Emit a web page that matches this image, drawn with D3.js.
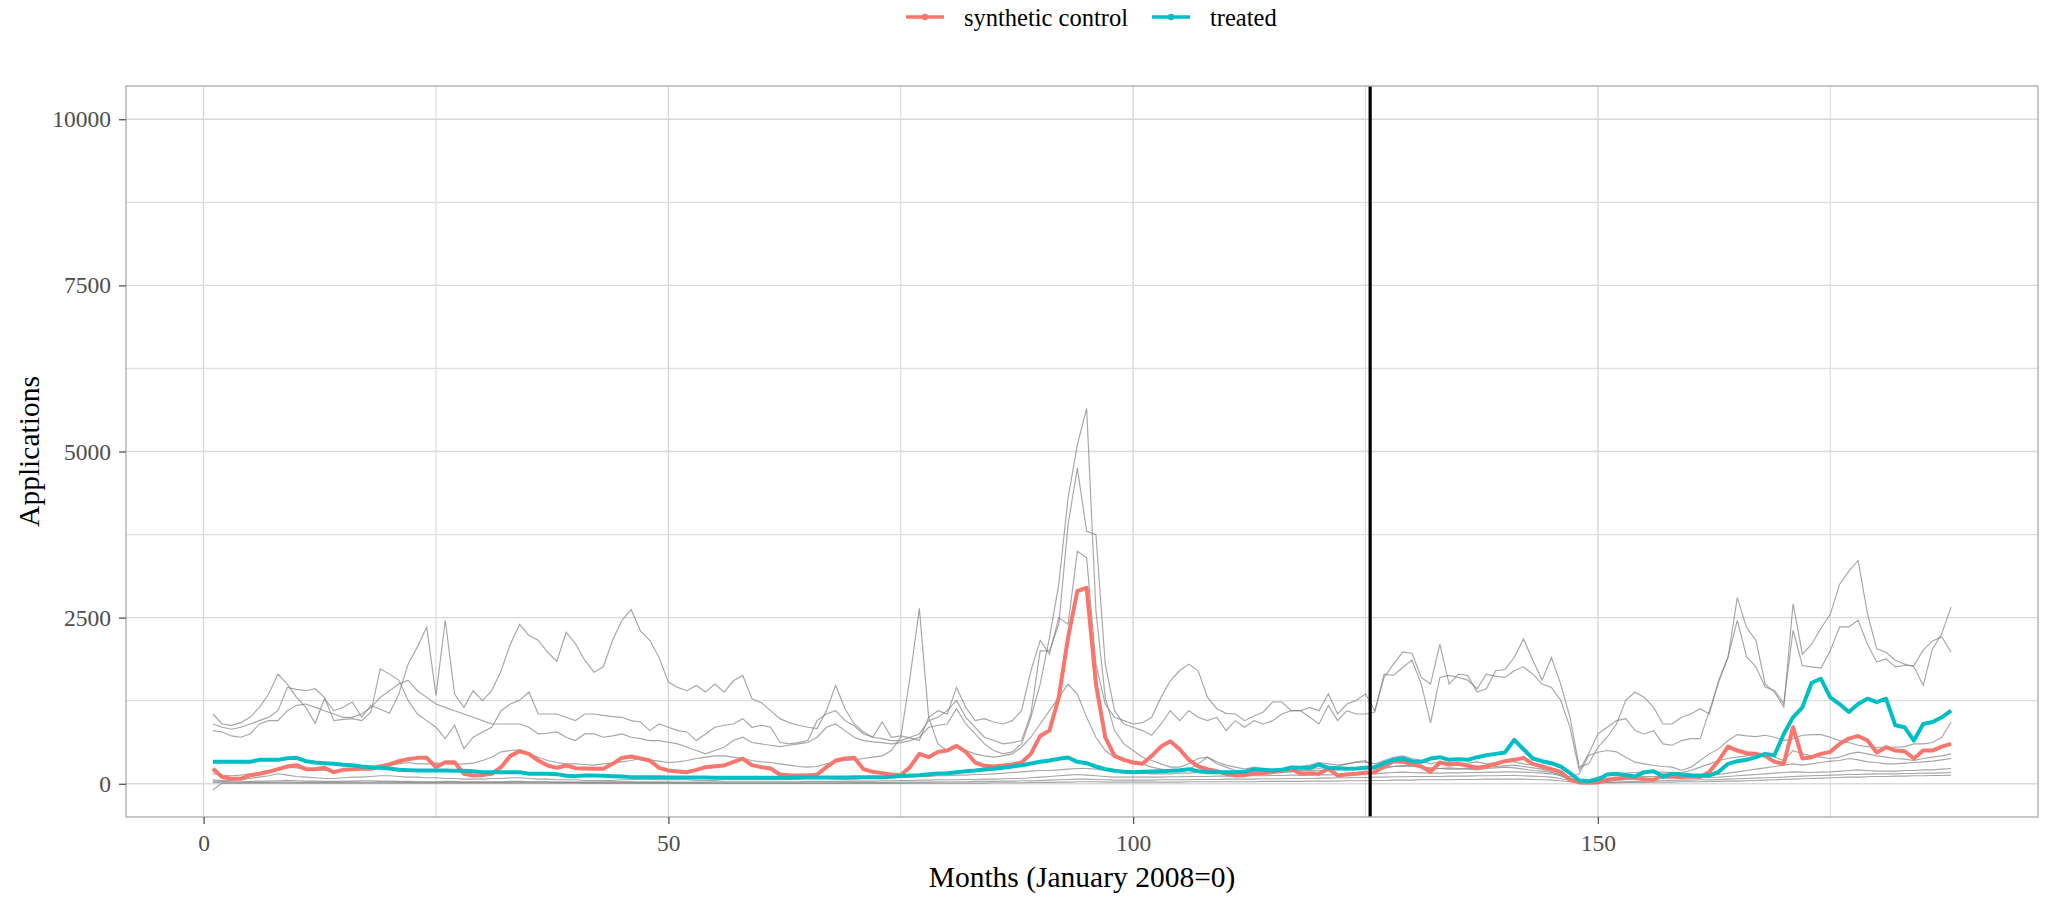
<!DOCTYPE html>
<html>
<head>
<meta charset="utf-8">
<script src="https://cdn.jsdelivr.net/npm/d3@7/dist/d3.min.js"></script>
<style>
body { margin: 0; background: #fff; }
text { font-family: "Liberation Serif", "Times New Roman", serif; }
</style>
</head>
<body>
<div id="chart"></div>
<script>
// months since January 2008
var months = d3.range(1, 189);

var treated = [330,330,330,330,330,360,360,360,385,390,
340,320,310,300,285,280,260,250,240,230,
210,205,200,200,200,200,195,195,190,175,
175,175,175,175,150,150,150,145,120,115,
125,125,120,115,110,100,100,100,100,95,
95,95,95,95,90,90,90,90,90,90,
90,90,90,95,95,95,95,95,95,100,
100,100,100,105,115,125,130,145,155,160,
175,190,200,215,225,240,260,280,305,330,
350,375,395,330,310,260,220,195,180,175,
180,185,190,195,205,220,190,175,175,175,
175,180,215,210,200,210,245,240,240,290,
240,235,225,230,240,250,310,360,380,340,
330,380,400,360,370,360,400,430,450,470,
660,520,380,340,310,260,160,50,40,60,
140,150,130,110,175,190,110,150,140,130,
125,125,180,300,340,360,400,450,430,750,
1000,1150,1520,1580,1300,1200,1080,1200,1280,1230,
1280,880,850,650,900,930,1000,1100];

var synthetic = [225,100,75,75,125,150,180,220,260,280,
220,220,240,175,210,220,225,225,260,290,
340,370,390,390,250,325,325,150,125,130,
150,250,420,490,450,350,275,240,275,235,
230,225,225,300,390,410,380,350,240,200,
185,175,210,250,265,275,330,380,280,250,
230,140,130,125,125,140,250,350,380,390,
220,180,160,140,130,250,450,400,480,500,
570,480,320,270,260,275,290,320,450,720,
800,1300,2200,2900,2950,1500,700,420,360,320,
300,420,560,640,520,360,260,220,190,150,
125,130,150,160,175,200,225,150,160,150,
225,125,140,150,165,175,260,340,330,300,
260,180,320,290,300,270,240,260,300,340,
360,390,300,260,220,180,60,20,15,20,
60,80,90,90,70,60,130,110,100,110,
100,180,350,560,500,460,450,420,330,300,
850,380,400,450,480,600,680,720,650,470,
550,500,490,380,500,500,560,600];

// donor pool (grey lines)
var donor1 = [1050,900,880,920,1000,1150,1350,1650,1500,1300,
1150,910,1280,1100,1150,1230,1000,1180,1120,1060,
1350,1800,2060,2360,1330,2460,1350,1150,1400,1250,
1400,1700,2100,2400,2230,2160,1980,1840,2280,2110,
1860,1680,1760,2160,2460,2620,2300,2160,1900,1530,
1450,1400,1480,1380,1500,1380,1550,1630,1280,1220,
1100,980,920,880,850,830,1100,1480,1130,900,
780,700,930,700,720,690,650,1000,1100,1050,
1450,1150,950,980,930,900,950,1100,1700,2160,
1950,2500,2400,3500,3400,1800,1200,1000,950,900,
920,1000,1300,1550,1700,1800,1700,1300,1130,1060,
1050,950,1020,1080,1230,1230,1100,1100,1150,1100,
1355,1050,1200,1255,1355,1100,1600,1800,1980,1965,
1600,1500,2100,1500,1650,1630,1380,1430,1700,1720,
1900,2180,1860,1560,1900,1500,1000,250,300,550,
700,900,1255,1380,1300,1150,900,900,1000,1050,
1130,1050,1560,1900,2800,2350,2160,1500,1380,1155,
2710,1950,2100,2340,2550,3000,3200,3360,2560,2030,
1980,1860,1800,1760,1480,2030,2260,2660];

var donor2 = [900,850,820,850,900,950,1000,1100,1450,1420,
1400,1430,1300,950,970,980,950,1080,1730,1650,
1560,1255,1050,950,850,680,880,530,700,780,
850,1100,1200,1255,1380,1050,1050,1050,1000,950,
1050,1050,1030,1010,1000,950,930,800,900,850,
800,780,650,750,850,880,900,980,850,880,
850,625,600,620,650,950,1050,1100,950,870,
750,700,680,650,650,700,750,950,1000,1100,
1255,1000,850,700,650,600,620,650,1050,2000,
2000,2400,3900,4750,3800,3750,1800,1100,900,850,
800,730,900,1100,950,1100,1000,950,1000,800,
950,850,950,900,950,1050,1100,1100,1000,900,
1180,950,1100,1050,1050,1080,1650,1630,1750,1860,
1500,915,1600,1630,1600,1560,1430,1650,1620,1600,
1700,1760,1650,1500,1450,1255,850,200,450,750,
850,950,980,800,750,800,600,580,650,680,
680,1100,1530,1910,2460,1910,1760,1455,1405,1205,
2310,1780,1760,1740,2000,2360,2360,2460,2100,1830,
1880,1760,1780,1780,2010,2150,2210,1980];

var donor3 = [800,780,720,700,750,900,950,950,1100,1180,
1200,1150,1100,1050,1000,1000,1050,1150,1300,1400,
1500,1560,1400,1300,1200,1150,1100,1050,1000,950,
900,900,900,900,850,750,760,780,700,650,
750,750,700,720,750,700,680,650,650,625,
600,550,500,450,500,550,650,700,620,600,
580,560,580,600,620,700,850,900,800,700,
650,630,620,600,620,650,700,850,880,900,
1130,900,750,600,500,450,480,600,1000,1500,
2200,3000,4300,5100,5650,2600,1300,800,600,500,
400,350,300,250,250,300,380,400,330,280,
250,220,250,230,220,230,240,260,280,320,
300,280,300,320,330,300,350,400,420,380,
350,300,330,320,300,310,330,300,320,340,
330,300,280,260,220,150,100,150,425,475,
500,480,400,325,300,275,260,250,200,250,
350,450,525,650,740,720,710,730,700,650,
680,730,740,740,700,650,620,580,560,550,
550,550,560,600,600,620,700,930];

var donor4 = [150,130,120,130,150,170,200,230,250,240,
220,210,200,200,210,220,230,250,270,280,
300,320,300,300,310,300,290,300,310,350,
400,480,500,510,450,400,350,320,300,300,
290,280,300,310,330,350,380,360,340,320,
330,350,380,400,420,420,400,380,350,330,
320,300,280,260,250,260,300,330,350,360,
380,400,420,500,700,1600,2640,1000,600,500,
550,500,450,420,400,420,450,550,700,900,
1100,1300,1500,1350,1000,700,500,400,350,300,
300,250,220,200,200,220,300,400,300,250,
200,180,160,150,160,170,180,200,220,230,
250,260,300,330,350,200,230,260,270,280,
250,240,230,220,220,230,240,250,260,270,
280,260,240,220,180,120,60,40,60,100,
130,150,160,170,180,180,175,170,170,200,
250,300,350,380,400,420,440,460,400,350,
500,450,420,400,380,400,450,475,450,420,
400,380,370,350,380,400,420,450];

var donor5 = [60,50,50,60,80,100,120,150,130,110,
100,90,80,80,90,100,100,110,120,120,
110,100,100,90,90,80,80,70,70,70,
80,80,90,90,80,70,70,60,60,60,
50,50,50,50,60,60,70,70,60,60,
60,60,50,50,50,60,60,60,60,60,
60,60,70,70,80,80,80,70,70,70,
80,80,90,90,100,100,110,110,120,120,
130,130,140,140,150,160,170,180,190,200,
200,210,220,230,230,220,200,190,180,170,
160,150,150,150,160,160,170,180,180,170,
160,160,170,170,180,180,190,190,200,200,
210,210,220,230,240,230,250,260,270,260,
250,220,230,240,230,220,210,230,240,250,
240,220,200,190,170,140,80,40,30,40,
60,80,90,100,110,110,100,110,100,100,
110,120,140,160,180,200,220,240,260,280,
300,280,300,320,340,350,380,360,330,320,
300,300,310,320,330,340,360,380];

var donor6 = [40,35,30,30,35,40,40,45,50,45,
40,40,35,35,40,40,45,45,40,40,
35,35,30,30,30,35,35,30,30,30,
30,30,35,35,30,30,30,25,25,25,
25,25,30,30,30,30,25,25,25,25,
25,25,25,25,30,30,30,30,30,30,
30,30,30,30,35,35,35,35,40,40,
40,40,45,45,50,50,55,55,60,60,
60,65,65,70,70,75,80,80,90,100,
110,120,130,140,130,120,110,100,100,100,
100,100,100,105,105,110,110,110,115,115,
115,120,120,120,125,125,130,130,130,135,
135,140,140,145,150,150,160,170,175,170,
165,160,160,165,165,170,170,175,175,180,
180,175,170,160,150,120,80,40,30,30,
40,50,60,70,75,80,80,85,85,90,
90,95,100,110,120,130,140,150,160,170,
180,175,170,175,180,190,200,210,200,190,
190,190,200,200,210,210,220,230];

var donor7 = [20,15,15,15,20,20,20,25,25,20,
20,20,20,20,20,25,25,25,25,25,
20,20,20,20,20,20,20,20,20,20,
20,20,20,25,25,25,25,20,20,20,
20,20,20,20,20,20,20,20,20,20,
15,15,15,15,15,15,15,15,15,15,
15,15,15,15,15,15,15,15,20,20,
20,20,20,20,25,25,25,25,30,30,
30,30,35,35,35,40,40,45,45,50,
55,60,65,70,70,65,60,55,55,55,
55,55,60,60,60,60,65,65,65,70,
70,70,70,75,75,75,80,80,80,85,
85,90,90,95,95,100,100,105,105,110,
110,110,110,115,115,115,120,120,120,125,
125,120,115,110,100,80,50,25,15,15,
20,25,30,35,40,45,50,50,55,55,
60,60,65,70,75,80,85,90,95,100,
110,115,120,125,130,135,140,140,145,150,
150,150,155,155,160,160,165,170];

var donor8 = [-90,10,10,10,10,10,10,10,10,10,
10,10,10,10,10,10,10,10,10,10,
10,10,10,10,10,10,10,10,10,10,
10,10,10,10,10,10,10,10,10,10,
5,5,5,5,5,5,5,5,5,5,
5,5,5,5,5,5,5,5,5,5,
5,5,5,5,5,5,5,5,5,5,
5,5,5,5,5,10,10,10,10,10,
10,10,10,10,15,15,15,15,20,20,
20,25,25,30,30,30,25,25,25,25,
25,25,25,25,25,30,30,30,30,30,
30,30,30,35,35,35,35,35,40,40,
40,40,45,45,45,50,50,55,55,55,
60,60,60,60,65,65,65,70,70,70,
70,70,65,60,55,45,30,15,10,10,
15,15,20,20,20,25,25,25,30,30,
30,35,35,40,40,45,50,55,60,65,
70,75,80,85,90,95,100,100,105,110,
110,115,115,120,120,125,125,130];

var donors = [donor1, donor2, donor3, donor4, donor5, donor6, donor7, donor8];

var seriesNames = ["synthetic control", "treated"];
var seriesColors = ["#F8766D", "#00BFC4"];
var yTicks = [0, 2500, 5000, 7500, 10000];
var xTicks = [0, 50, 100, 150];
var yLimits = [0, 10000];
var treatMonth = 125.5;

var width = 2058, height = 897;
var panel = {left: 126, right: 2038, top: 86, bottom: 817};

var svg = d3.select("#chart").append("svg")
	.attr("width", width)
	.attr("height", height);

// ggplot style 5% expansion
var xpad = (d3.max(months) - d3.min(months)) * 0.05;
var ypad = (yLimits[1] - yLimits[0]) * 0.05;
var x = d3.scaleLinear()
	.domain([d3.min(months) - xpad, d3.max(months) + xpad])
	.range([panel.left, panel.right]);
var y = d3.scaleLinear()
	.domain([yLimits[0] - ypad, yLimits[1] + ypad])
	.range([panel.bottom, panel.top]);

var yMinor = d3.range(yTicks.length - 1).map(function(i){ return (yTicks[i] + yTicks[i+1]) / 2; });
var xMinor = xTicks.map(function(t){ return t + 25; });

var grid = svg.append("g");
grid.selectAll(".ymin").data(yMinor).enter().append("line")
	.attr("x1", panel.left).attr("x2", panel.right)
	.attr("y1", function(d){ return y(d); }).attr("y2", function(d){ return y(d); })
	.attr("stroke", "#dedede").attr("stroke-width", 1.2);
grid.selectAll(".xmin").data(xMinor.filter(function(d){ return x(d) < panel.right; })).enter().append("line")
	.attr("y1", panel.top).attr("y2", panel.bottom)
	.attr("x1", function(d){ return x(d); }).attr("x2", function(d){ return x(d); })
	.attr("stroke", "#dedede").attr("stroke-width", 1.2);
grid.selectAll(".ymaj").data(yTicks).enter().append("line")
	.attr("x1", panel.left).attr("x2", panel.right)
	.attr("y1", function(d){ return y(d); }).attr("y2", function(d){ return y(d); })
	.attr("stroke", "#d9d9d9").attr("stroke-width", 1.4);
grid.selectAll(".xmaj").data(xTicks).enter().append("line")
	.attr("y1", panel.top).attr("y2", panel.bottom)
	.attr("x1", function(d){ return x(d); }).attr("x2", function(d){ return x(d); })
	.attr("stroke", "#d9d9d9").attr("stroke-width", 1.4);

var line = d3.line()
	.x(function(d, i){ return x(months[i]); })
	.y(function(d){ return y(d); });

svg.append("g").selectAll("path")
	.data(donors)
	.enter().append("path")
	.attr("d", line)
	.attr("fill", "none")
	.attr("stroke", "#808080")
	.attr("stroke-opacity", 0.7)
	.attr("stroke-width", 1.15);

[synthetic, treated].forEach(function(s, k){
	svg.append("path")
		.attr("d", line(s))
		.attr("fill", "none")
		.attr("stroke", seriesColors[k])
		.attr("stroke-width", 4)
		.attr("stroke-linejoin", "round");
});

svg.append("line")
	.attr("x1", x(treatMonth)).attr("x2", x(treatMonth))
	.attr("y1", panel.top).attr("y2", panel.bottom)
	.attr("stroke", "#000").attr("stroke-width", 3.2);

svg.append("rect")
	.attr("x", panel.left).attr("y", panel.top)
	.attr("width", panel.right - panel.left).attr("height", panel.bottom - panel.top)
	.attr("fill", "none").attr("stroke", "#b0b0b0").attr("stroke-width", 1.4);

// axes
var yAxis = svg.append("g")
	.attr("transform", "translate(" + panel.left + ",0)")
	.call(d3.axisLeft(y).tickValues(yTicks).tickFormat(d3.format("d")).tickSize(7).tickPadding(8));
var xAxis = svg.append("g")
	.attr("transform", "translate(0," + panel.bottom + ")")
	.call(d3.axisBottom(x).tickValues(xTicks).tickFormat(d3.format("d")).tickSize(7).tickPadding(10));
[yAxis, xAxis].forEach(function(a){
	a.select(".domain").remove();
	a.selectAll(".tick line").attr("stroke", "#555").attr("stroke-width", 1.3);
	a.selectAll(".tick text")
		.attr("fill", "#4d4d4d")
		.style("font-size", "23.5px")
		.style("font-family", "'Liberation Serif', serif");
});

svg.append("text")
	.attr("x", (panel.left + panel.right) / 2)
	.attr("y", 887)
	.attr("text-anchor", "middle")
	.style("font-size", "29.5px")
	.text("Months (January 2008=0)");

svg.append("text")
	.attr("transform", "translate(39," + ((panel.top + panel.bottom) / 2) + ") rotate(-90)")
	.attr("text-anchor", "middle")
	.style("font-size", "29.5px")
	.text("Applications");

// legend
var legendX = [906, 1152];
var legend = svg.append("g");
seriesNames.forEach(function(name, k){
	var g = legend.append("g").attr("transform", "translate(" + legendX[k] + ",17)");
	g.append("line").attr("x1", 0).attr("x2", 38).attr("y1", 0).attr("y2", 0)
		.attr("stroke", seriesColors[k]).attr("stroke-width", 3.4);
	g.append("circle").attr("cx", 19).attr("cy", 0).attr("r", 3.3).attr("fill", seriesColors[k]);
	g.append("text").attr("x", 58).attr("y", 8.5)
		.style("font-size", "24.5px")
		.text(name);
});
</script>
</body>
</html>
